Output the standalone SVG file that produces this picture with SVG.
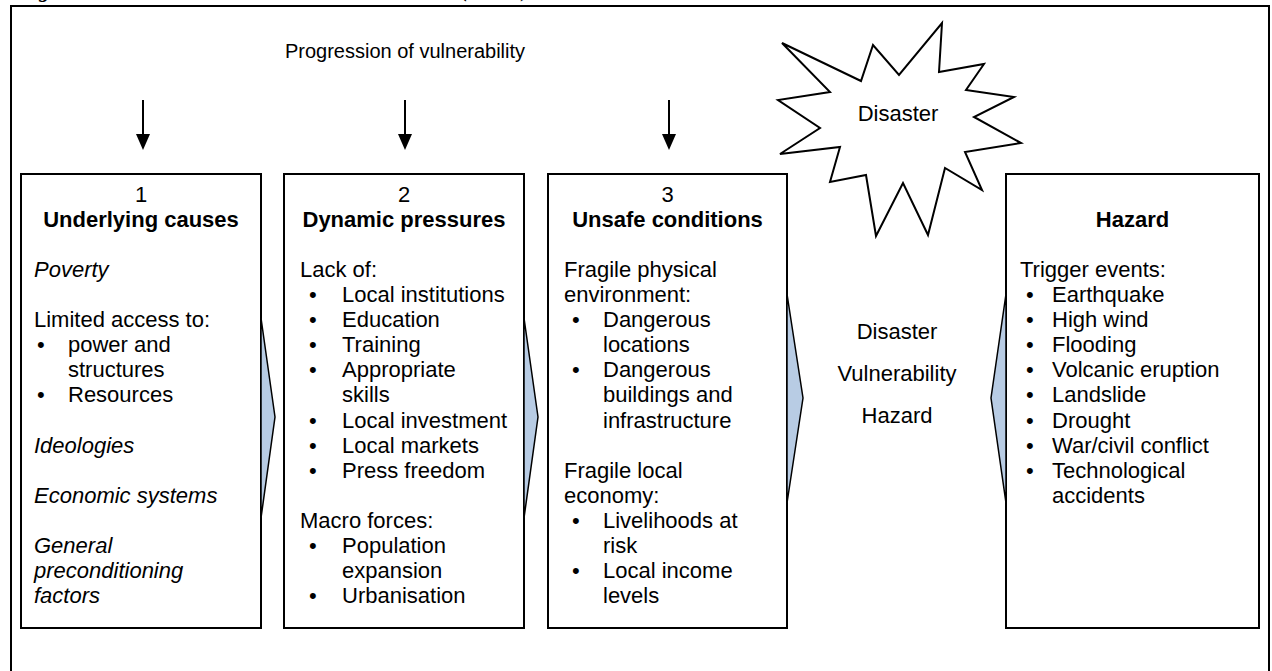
<svg xmlns="http://www.w3.org/2000/svg" width="1272" height="671" viewBox="0 0 1272 671">
<style>
.t{font-family:"Liberation Sans",Arial,sans-serif;font-size:22px;fill:#000}
.b{font-weight:bold}
.i{font-style:italic}
.c{text-anchor:middle}
.box{fill:#fff;stroke:#000;stroke-width:2}
.chev{fill:#b8cce4;stroke:#000;stroke-width:1.5;stroke-linejoin:miter}
.arr{stroke:#000;stroke-width:2}
.head{fill:#000}
</style>
<rect width="1272" height="671" fill="#fff"/>
<text x="12" y="-3" style="font-family:'Liberation Serif','Times New Roman',serif;font-size:21px;font-weight:bold;font-style:italic" textLength="600">Figure 1: The Pressure and Release (PAR) Model</text>
<rect id="frame" x="11" y="6" width="1258" height="720" fill="none" stroke="#000" stroke-width="2"/>
<g id="title"><text class="t c" x="405" y="58" style="font-size:20px">Progression of vulnerability</text></g>
<g id="connectors">
<line class="arr" x1="143" y1="100" x2="143" y2="136"/><path class="head" d="M136,134 L150,134 L143,150 Z"/>
<line class="arr" x1="405" y1="100" x2="405" y2="136"/><path class="head" d="M398,134 L412,134 L405,150 Z"/>
<line class="arr" x1="669" y1="100" x2="669" y2="136"/><path class="head" d="M662,134 L676,134 L669,150 Z"/>
</g>
<g id="disaster-star">
<polygon points="942,23 939,72 984,64 966,90 1014,97 974,117 1021,143 965,152 982,190 945,168 928,235 903,183 876,236 866,175 830,182 840,147 780,154 820,128 778,100 830,92 782,43 861,81 873,45 899,75" fill="#fff" stroke="#000" stroke-width="2" stroke-linejoin="miter"/>
<text class="t c" x="898" y="121">Disaster</text>
</g>
<g id="box1">
<rect class="box" x="21" y="174" width="240" height="454"/>
<text class="t c" x="141" y="201.6">1</text>
<text class="t c b" x="141" y="226.7">Underlying causes</text>
<text class="t i" x="34" y="276.9">Poverty</text>
<text class="t" x="34" y="327.1">Limited access to:</text>
<text class="t" x="37" y="352.2">•</text><text class="t" x="68" y="352.2">power and</text>
<text class="t" x="68" y="377.3">structures</text>
<text class="t" x="37" y="402.4">•</text><text class="t" x="68" y="402.4">Resources</text>
<text class="t i" x="34" y="452.6">Ideologies</text>
<text class="t i" x="34" y="502.8">Economic systems</text>
<text class="t i" x="34" y="553">General</text>
<text class="t i" x="34" y="578.1">preconditioning</text>
<text class="t i" x="34" y="603.2">factors</text>
</g>
<g id="box2">
<rect class="box" x="284" y="174" width="240" height="454"/>
<text class="t c" x="404" y="201.6">2</text>
<text class="t c b" x="404" y="226.7">Dynamic pressures</text>
<text class="t" x="300" y="276.9">Lack of:</text>
<text class="t" x="309" y="302">•</text><text class="t" x="342" y="302">Local institutions</text>
<text class="t" x="309" y="327.1">•</text><text class="t" x="342" y="327.1">Education</text>
<text class="t" x="309" y="352.2">•</text><text class="t" x="342" y="352.2">Training</text>
<text class="t" x="309" y="377.3">•</text><text class="t" x="342" y="377.3">Appropriate</text>
<text class="t" x="342" y="402.4">skills</text>
<text class="t" x="309" y="427.5">•</text><text class="t" x="342" y="427.5">Local investment</text>
<text class="t" x="309" y="452.6">•</text><text class="t" x="342" y="452.6">Local markets</text>
<text class="t" x="309" y="477.7">•</text><text class="t" x="342" y="477.7">Press freedom</text>
<text class="t" x="300" y="527.9">Macro forces:</text>
<text class="t" x="309" y="553">•</text><text class="t" x="342" y="553">Population</text>
<text class="t" x="342" y="578.1">expansion</text>
<text class="t" x="309" y="603.2">•</text><text class="t" x="342" y="603.2">Urbanisation</text>
</g>
<g id="box3">
<rect class="box" x="548" y="174" width="239" height="454"/>
<text class="t c" x="667.5" y="201.6">3</text>
<text class="t c b" x="667.5" y="226.7">Unsafe conditions</text>
<text class="t" x="564" y="276.9">Fragile physical</text>
<text class="t" x="564" y="302">environment:</text>
<text class="t" x="572" y="327.1">•</text><text class="t" x="603" y="327.1">Dangerous</text>
<text class="t" x="603" y="352.2">locations</text>
<text class="t" x="572" y="377.3">•</text><text class="t" x="603" y="377.3">Dangerous</text>
<text class="t" x="603" y="402.4">buildings and</text>
<text class="t" x="603" y="427.5">infrastructure</text>
<text class="t" x="564" y="477.7">Fragile local</text>
<text class="t" x="564" y="502.8">economy:</text>
<text class="t" x="572" y="527.9">•</text><text class="t" x="603" y="527.9">Livelihoods at</text>
<text class="t" x="603" y="553">risk</text>
<text class="t" x="572" y="578.1">•</text><text class="t" x="603" y="578.1">Local income</text>
<text class="t" x="603" y="603.2">levels</text>
</g>
<g id="hazard">
<rect class="box" x="1006" y="174" width="253" height="454"/>
<text class="t c b" x="1132.5" y="226.7">Hazard</text>
<text class="t" x="1020" y="276.9">Trigger events:</text>
<text class="t" x="1026" y="302">•</text><text class="t" x="1052" y="302">Earthquake</text>
<text class="t" x="1026" y="327.1">•</text><text class="t" x="1052" y="327.1">High wind</text>
<text class="t" x="1026" y="352.2">•</text><text class="t" x="1052" y="352.2">Flooding</text>
<text class="t" x="1026" y="377.3">•</text><text class="t" x="1052" y="377.3">Volcanic eruption</text>
<text class="t" x="1026" y="402.4">•</text><text class="t" x="1052" y="402.4">Landslide</text>
<text class="t" x="1026" y="427.5">•</text><text class="t" x="1052" y="427.5">Drought</text>
<text class="t" x="1026" y="452.6">•</text><text class="t" x="1052" y="452.6">War/civil conflict</text>
<text class="t" x="1026" y="477.7">•</text><text class="t" x="1052" y="477.7">Technological</text>
<text class="t" x="1052" y="502.8">accidents</text>
</g>
<g id="middle-labels">
<text class="t c" x="897" y="339">Disaster</text>
<text class="t c" x="897" y="381">Vulnerability</text>
<text class="t c" x="897" y="423">Hazard</text>
</g>
<g id="chevrons">
<polygon class="chev" points="261,318 275,417 261,518"/>
<polygon class="chev" points="524,318 538,417 524,518"/>
<polygon class="chev" points="787,294 803,398 787,503"/>
<polygon class="chev" points="1006,294 991,398 1006,503"/>
</g>
</svg>
